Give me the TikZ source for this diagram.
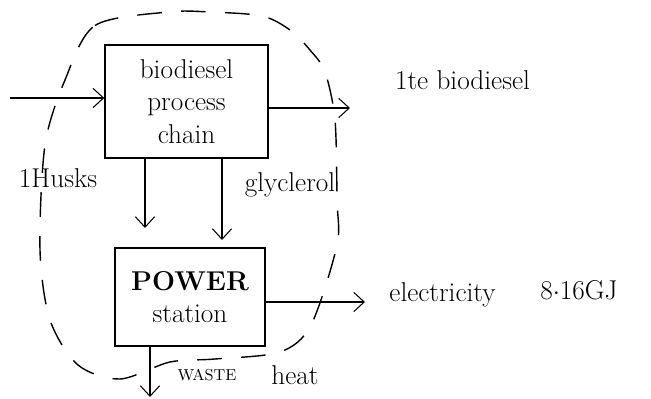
\documentclass[tikz,border=0pt]{standalone}
\usepackage{tikz}
\usetikzlibrary{arrows.meta,calc,positioning}

\begin{document}
\begin{tikzpicture}[x=1cm,y=1cm,font=\fontsize{15.5}{18.5}\selectfont,>={Straight Barb[length=6pt,width=11pt]},
  box/.style={draw,thick,align=center,inner sep=4pt},
  flow/.style={->,semithick},
  lbl/.style={inner sep=1pt}]
\useasboundingbox (0,0) rectangle (13.02,7.96);
% system boundary, drawn loose
\draw[thick,dash pattern=on 14pt off 11pt] plot[smooth cycle,tension=0.5] coordinates {
  (1.3,6.36) (1.9,7.45) (3.36,7.72) (4.2,7.72) (5.24,7.64) (5.8,7.36)
  (6.2,6.96) (6.5,6.52) (6.7,5.56) (6.74,3.96) (6.74,3.06) (6.22,1.46) (5.6,0.92)
  (4.3,0.78) (3.4,0.72) (2.4,0.38) (1.56,0.66) (1.0,1.56) (0.8,2.96) (0.9,5.06)};
% the two blocks
\node[box,minimum width=3.26cm,minimum height=2.26cm] (chain) at (3.73,5.93) {biodiesel\\process\\chain};
\node[box,minimum width=3.0cm,minimum height=1.96cm] (power) at (3.8,2.02) {\textbf{POWER}\\station};
% in and out
\coordinate (feed) at (0.2,6.0);
\coordinate (fuel) at (7.0,5.8);
\coordinate (husk) at (2.9,3.4);
\coordinate (glyc) at (4.44,3.16);
\coordinate (elec) at (7.3,1.92);
\coordinate (loss) at (3.0,0.02);
\draw[flow] (feed) -- (feed -| chain.west);
\draw[flow] (fuel -| chain.east) -- (fuel);
\draw[flow] (husk |- chain.south) -- (husk);
\draw[flow] (glyc |- chain.south) -- (glyc);
\draw[flow] (elec -| power.east) -- (elec);
\draw[flow] (loss |- power.south) -- (loss);
% labels
\node[lbl] (tonne) at (9.25,6.36) {1te biodiesel};
\node[lbl] (husks) at (1.16,4.4) {1Husks};
\node[lbl] (glycl) at (5.8,4.26) {glyclerol};
\node[lbl] (elect) at (8.85,2.06) {electricity};
\node[lbl] (gj) at (11.58,2.16) {8$\cdot$16GJ};
\node[lbl,font=\small] (waste) at (4.14,0.46) {WASTE};
\node[lbl] (heat) at (5.9,0.46) {heat};
\end{tikzpicture}
\end{document}
